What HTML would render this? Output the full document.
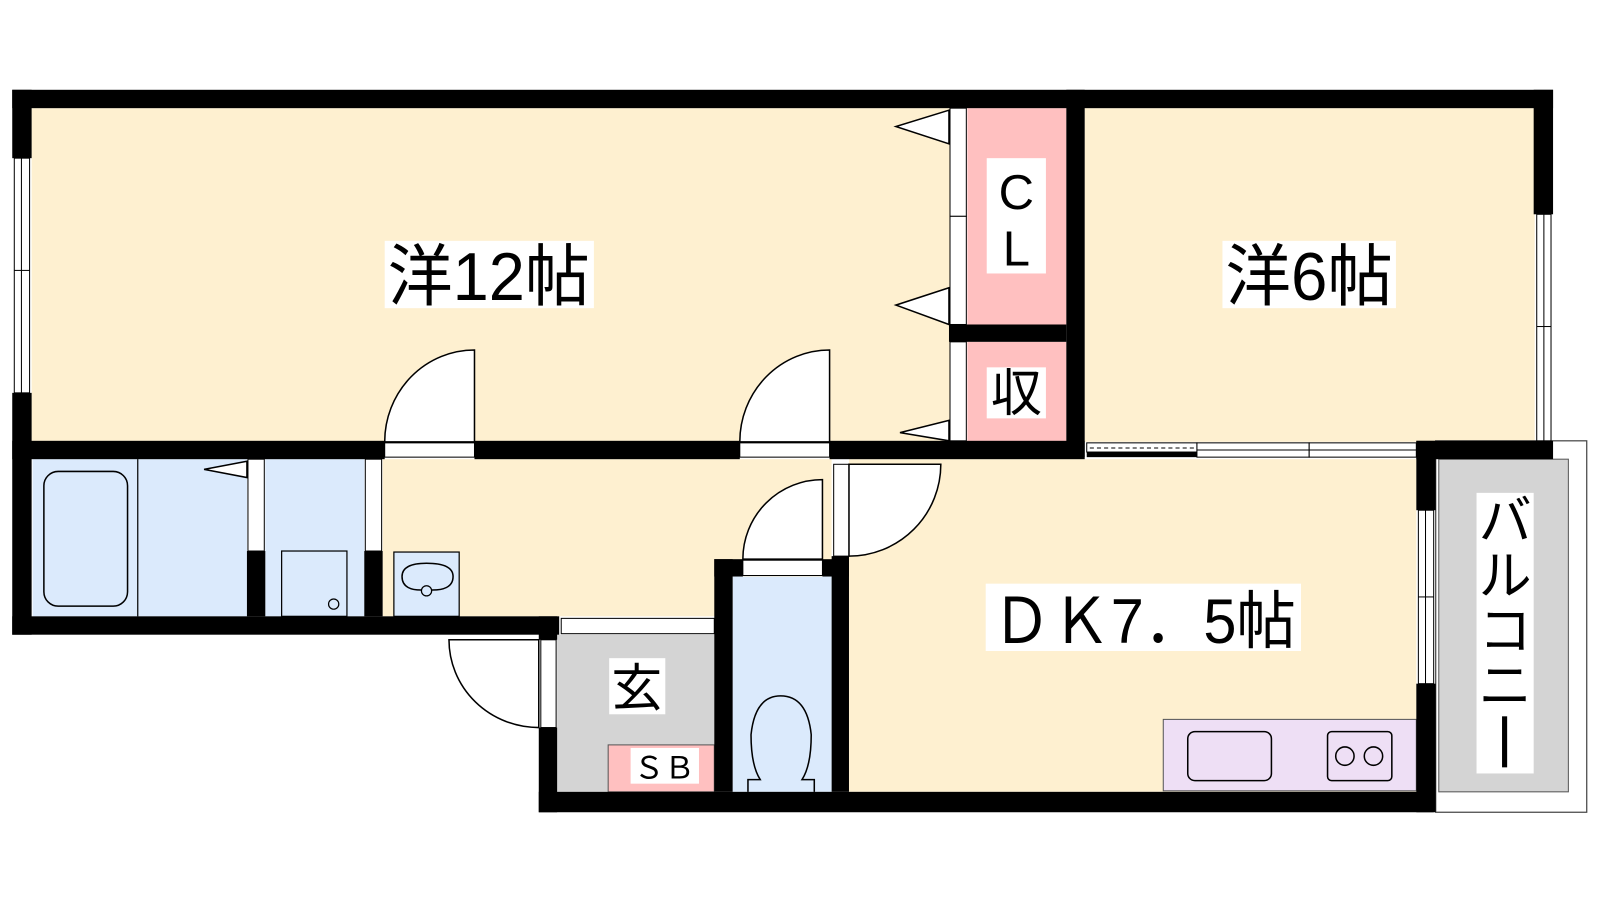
<!DOCTYPE html>
<html><head><meta charset="utf-8"><style>
html,body{margin:0;padding:0;background:#fff;}
svg{display:block}
text{font-family:"Liberation Sans","Noto Sans CJK JP",sans-serif;fill:#000}
</style></head><body>
<svg width="1600" height="900" viewBox="0 0 1568 882" xmlns="http://www.w3.org/2000/svg">
<rect width="1568" height="882" fill="#fff"/>
<rect x="31" y="106" width="900" height="327" fill="#fef0d0"/>
<rect x="1063" y="106" width="441" height="327" fill="#fef0d0"/>
<rect x="948" y="106" width="97" height="212" fill="#ffc0c0"/>
<rect x="948" y="335" width="97" height="98" fill="#ffc0c0"/>
<rect x="32" y="450" width="210" height="154" fill="#dbeafc"/>
<rect x="260" y="450" width="97" height="154" fill="#dbeafc"/>
<rect x="375" y="450" width="440" height="154" fill="#fef0d0"/>
<rect x="832" y="450" width="556" height="326" fill="#fef0d0"/>
<rect x="718" y="565" width="97" height="211" fill="#dbeafc"/>
<rect x="546" y="622" width="154" height="154" fill="#d4d4d4"/>
<rect x="596" y="730" width="104" height="46" fill="#ffc0c0" stroke="#555" stroke-width="1"/>
<rect x="1407" y="432" width="148" height="364" fill="#fff" stroke="#444" stroke-width="1.2"/>
<rect x="1410" y="450" width="127" height="326" fill="#d4d4d4" stroke="#555" stroke-width="1"/>
<rect x="1140" y="705" width="248" height="70" fill="#eedff5" stroke="#555" stroke-width="1"/>
<rect x="1164" y="717" width="82" height="48" rx="7" fill="none" stroke="#000" stroke-width="1.5"/>
<rect x="1301" y="717" width="63" height="48" rx="4" fill="none" stroke="#000" stroke-width="1.5"/>
<circle cx="1318" cy="741" r="9" fill="none" stroke="#000" stroke-width="1.5"/>
<circle cx="1346" cy="741" r="9" fill="none" stroke="#000" stroke-width="1.5"/>
<g fill="#000">
<rect x="12" y="88" width="1510" height="18"/>
<rect x="12" y="88" width="19" height="67"/>
<rect x="12" y="385" width="19" height="237"/>
<rect x="1503" y="88" width="19" height="122"/>
<rect x="12" y="432" width="365" height="18"/>
<rect x="465" y="432" width="260" height="18"/>
<rect x="813" y="432" width="250" height="18"/>
<rect x="1045" y="88" width="18" height="360"/>
<rect x="930" y="318" width="115" height="17"/>
<rect x="1388" y="432" width="134" height="18"/>
<rect x="1388" y="432" width="19" height="68"/>
<rect x="1388" y="670" width="19" height="126"/>
<rect x="12" y="604" width="536" height="18"/>
<rect x="528" y="604" width="18" height="23"/>
<rect x="528" y="713" width="18" height="83"/>
<rect x="528" y="776" width="877" height="20"/>
<rect x="700" y="548" width="18" height="228"/>
<rect x="700" y="548" width="28" height="17"/>
<rect x="806" y="548" width="26" height="17"/>
<rect x="815" y="545" width="17" height="231"/>
<rect x="242" y="540" width="18" height="64"/>
<rect x="357" y="540" width="18" height="64"/>
<rect x="1065" y="443" width="108" height="5"/>
</g>
<g fill="#fff" stroke="#000" stroke-width="1">
<rect x="14" y="155" width="15" height="230"/>
<line x1="21" y1="155" x2="21" y2="385"/>
<line x1="14" y1="265" x2="29" y2="265"/>
<rect x="1506" y="210" width="14" height="222"/>
<line x1="1513" y1="210" x2="1513" y2="432"/>
<line x1="1506" y1="320" x2="1520" y2="320"/>
<rect x="1390" y="500" width="15" height="170"/>
<line x1="1397" y1="500" x2="1397" y2="670"/>
<line x1="1390" y1="585" x2="1405" y2="585"/>
<rect x="1065" y="434" width="108" height="9"/>
<line x1="1068" y1="439" x2="1170" y2="439" stroke-dasharray="4 3"/>
<rect x="1173" y="434" width="110" height="14"/>
<rect x="1283" y="434" width="105" height="14"/>
<line x1="1173" y1="441" x2="1283" y2="441"/>
<line x1="1283" y1="441" x2="1388" y2="441"/>
<rect x="377" y="434" width="88" height="14"/>
<rect x="725" y="434" width="88" height="14"/>
<rect x="728" y="549" width="78" height="15"/>
<rect x="550" y="606" width="150" height="15"/>
<rect x="530" y="627" width="15" height="86"/>
<rect x="817" y="455" width="15" height="90"/>
<rect x="931" y="106" width="16" height="106"/>
<rect x="931" y="212" width="16" height="106"/>
<rect x="931" y="335" width="16" height="97"/>
<rect x="243" y="450" width="16" height="90"/>
<rect x="358" y="450" width="16" height="90"/>
</g>
<g fill="#fff" stroke="#000" stroke-width="1.5">
<path d="M465 343 L465 433 L377 433 A88 90 0 0 1 465 343 Z"/>
<path d="M813 343 L813 433 L725 433 A88 90 0 0 1 813 343 Z"/>
<path d="M806 470 L806 548 L728 548 A78 78 0 0 1 806 470 Z"/>
<path d="M832 455 L922 455 A90 90 0 0 1 832 545 Z"/>
<path d="M528 627 L528 713 A88 86 0 0 1 440 627 Z"/>
<path d="M930 108 L878 124 L930 141 Z"/>
<path d="M930 282 L878 299 L930 318 Z"/>
<path d="M930 412 L882 424 L930 432 Z"/>
<path d="M242 452 L200 460 L242 468 Z"/>
</g>
<g fill="none" stroke="#000" stroke-width="1.2">
<line x1="135" y1="450" x2="135" y2="604"/>
<rect x="43" y="462" width="82" height="132" rx="14" stroke-width="1.5"/>
<rect x="276" y="540" width="64" height="64" fill="#dbeafc"/>
<circle cx="327" cy="592" r="5"/>
<rect x="386" y="541" width="64" height="63" fill="#dbeafc"/>
<path d="M394 565 Q394 552 418 552 Q444 552 444 565 Q444 580 418 578 Q394 580 394 565 Z" stroke-width="1.5"/>
<circle cx="418" cy="579" r="5" fill="#dbeafc"/>
<path d="M733 776 L733 764 L745 764 Q736 750 736 720 Q740 682 765 682 Q791 682 795 720 Q795 750 786 764 L798 764 L798 776" stroke-width="1.5"/>
</g>
<rect x="377" y="236" width="205" height="66" fill="#fff"/>
<text x="380" y="294" font-size="66" textLength="198" lengthAdjust="spacingAndGlyphs">洋12帖</text>
<rect x="1198" y="236" width="170" height="66" fill="#fff"/>
<text x="1201" y="294" font-size="66" textLength="164" lengthAdjust="spacingAndGlyphs">洋6帖</text>
<rect x="966" y="572" width="309" height="66" fill="#fff"/>
<text x="972" y="630" font-size="62" textLength="298" lengthAdjust="spacingAndGlyphs">ＤＫ7．5帖</text>
<rect x="967" y="155" width="58" height="113" fill="#fff"/>
<text x="996" y="205" font-size="48" text-anchor="middle">C</text>
<text x="996" y="260" font-size="48" text-anchor="middle">L</text>
<rect x="967" y="360" width="58" height="50" fill="#fff"/>
<text x="996" y="403" font-size="50" text-anchor="middle">収</text>
<rect x="597" y="645" width="55" height="55" fill="#fff"/>
<text x="624" y="692" font-size="50" text-anchor="middle">玄</text>
<rect x="618" y="733" width="67" height="35" fill="#fff"/>
<text x="651" y="763" font-size="30" text-anchor="middle">ＳＢ</text>
<rect x="1447" y="483" width="56" height="275" fill="#fff"/>
<text x="1475" y="528" font-size="52" text-anchor="middle">バ</text>
<text x="1475" y="582" font-size="52" text-anchor="middle">ル</text>
<text x="1475" y="636" font-size="52" text-anchor="middle">コ</text>
<text x="1475" y="690" font-size="52" text-anchor="middle">ニ</text>
<rect x="1472" y="702" width="5" height="50" fill="#000"/>
</svg>
</body></html>
